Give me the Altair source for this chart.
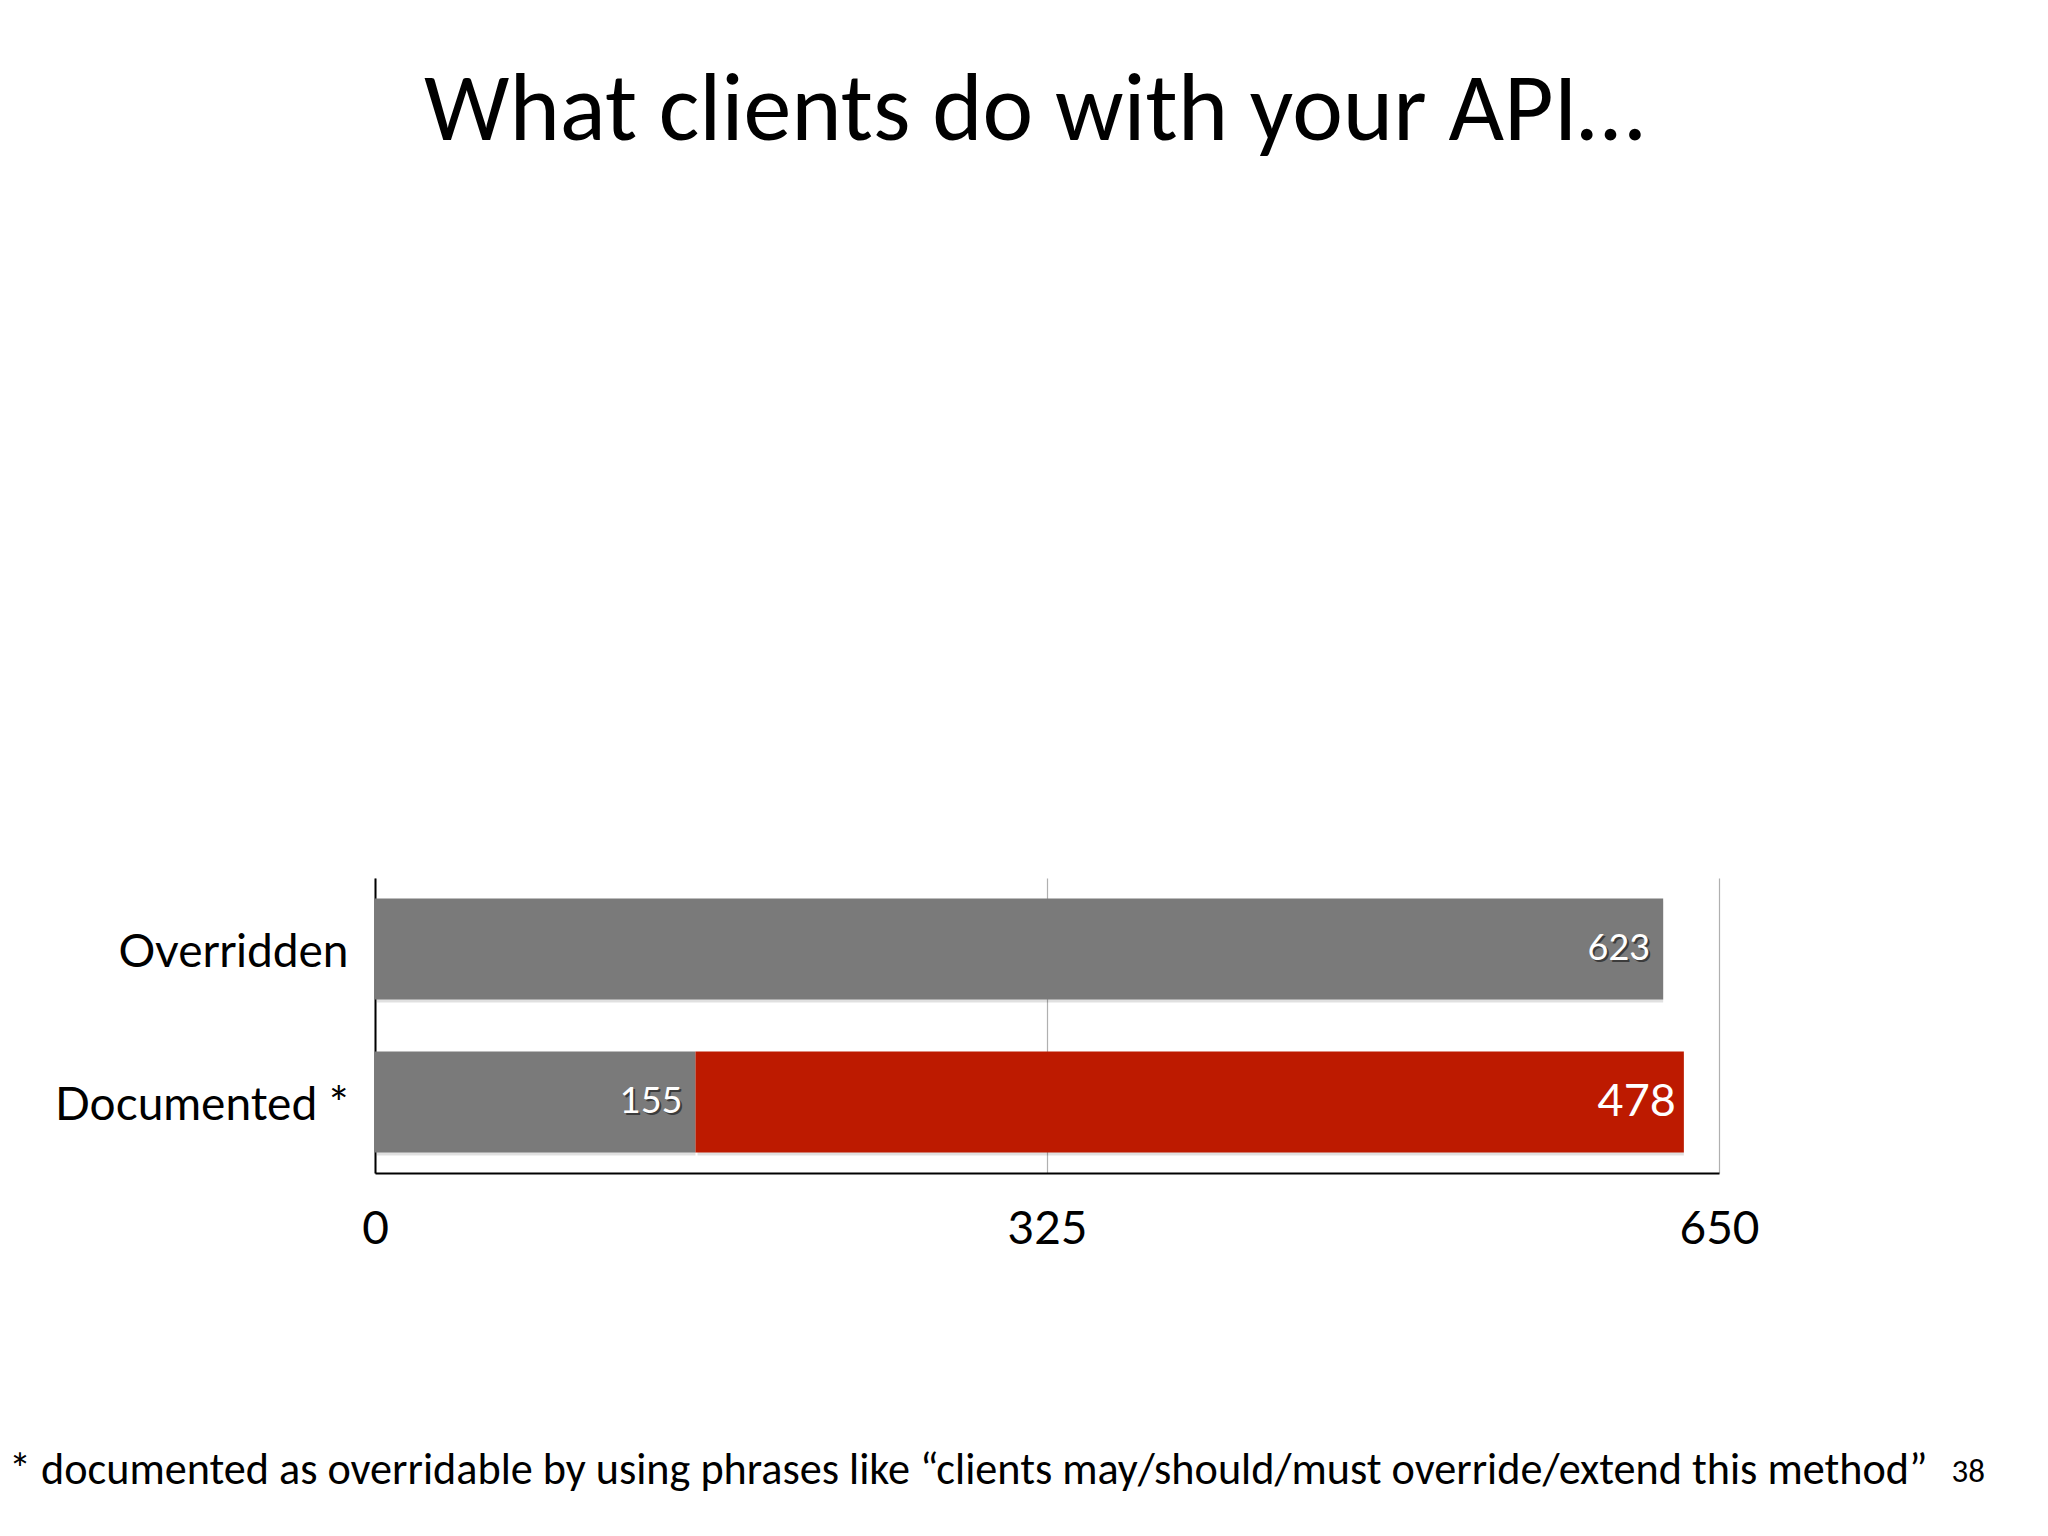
import altair as alt
import pandas as pd

# ---- data ----
categories = ["Overridden", "Documented *"]
bar_category = ["Overridden", "Documented *", "Documented *"]
bar_part = ["Overridden", "Not documented", "Documented"]
bar_value = [623, 155, 478]
bar_order = [0, 0, 1]
x_ticks = [0, 325, 650]
title_text = ["What clients do with your API\u2026"]
footnote_text = ["* documented as overridable by using phrases like \u201cclients may/should/must override/extend this method\u201d"]
page_text = ["38"]

GRAY = "#7a7a7a"
RED = "#bd1a00"
LABEL_FONT = "Lato"
SLIDE_FONT = "Carlito, 'Liberation Sans Narrow', 'Open Sans'"

df = pd.DataFrame({"cat": bar_category, "part": bar_part, "value": bar_value, "ord": bar_order})

W, H = 1344, 295
PL, PT = 367, 870
PR = 2032 - PL - W
PB = 1520 - PT - H

base = alt.Chart(df).transform_stack(
    stack="value", groupby=["cat"], as_=["x0", "x1"], sort=[alt.SortField("ord")]
)

y_enc = alt.Y(
    "cat:N",
    sort=categories,
    title=None,
    scale=alt.Scale(paddingInner=0.34, paddingOuter=0.134),
    axis=alt.Axis(
        labelFont=LABEL_FONT, labelFontSize=46, labelColor="#000", labelPadding=27,
        labelOffset=4, ticks=False, domainColor="#000", domainWidth=2, grid=False,
        labelLimit=400,
    ),
)
x_enc = alt.X(
    "x0:Q",
    title=None,
    scale=alt.Scale(domain=[0, 650], nice=False),
    axis=alt.Axis(
        values=x_ticks, labelFont=LABEL_FONT, labelFontSize=46, labelColor="#000",
        labelPadding=34, ticks=False, domainColor="#000", domainWidth=2,
        grid=True, gridColor="#b0b0b0", gridWidth=1.2, labelFlush=False,
    ),
)

shadow = base.mark_bar(color="#000", opacity=0.12, xOffset=2, yOffset=3).encode(
    x=x_enc, x2="x1:Q", y=y_enc
)
bars = base.mark_bar().encode(
    x=x_enc,
    x2="x1:Q",
    y=y_enc,
    color=alt.Color(
        "part:N",
        scale=alt.Scale(domain=["Overridden", "Not documented", "Documented"], range=[GRAY, GRAY, RED]),
        legend=None,
    ),
)

gray_base = base.transform_filter("datum.part != 'Documented'")
lab_shadow = gray_base.mark_text(
    align="right", baseline="middle", dx=-11, dy=2, font=LABEL_FONT, fontSize=36, color="#222", opacity=0.7
).encode(x=alt.X("x1:Q"), y=alt.Y("cat:N", sort=categories), text="value:Q")
lab_gray = gray_base.mark_text(
    align="right", baseline="middle", dx=-13, font=LABEL_FONT, fontSize=36, color="#fff"
).encode(x=alt.X("x1:Q"), y=alt.Y("cat:N", sort=categories), text="value:Q")
lab_red = base.transform_filter("datum.part == 'Documented'").mark_text(
    align="right", baseline="middle", dx=-8, font=LABEL_FONT, fontSize=45, color="#fff"
).encode(x=alt.X("x1:Q"), y=alt.Y("cat:N", sort=categories), text="value:Q")

title = alt.Chart(pd.DataFrame({"t": title_text})).mark_text(
    align="center", baseline="alphabetic", font=SLIDE_FONT, fontSize=96, color="#000"
).encode(x=alt.value(1034 - 375), y=alt.value(140 - 878), text="t:N")

foot = alt.Chart(pd.DataFrame({"t": footnote_text})).mark_text(
    align="left", baseline="alphabetic", font=SLIDE_FONT, fontSize=44.2, color="#000"
).encode(x=alt.value(9 - 375), y=alt.value(1484 - 878), text="t:N")

page = alt.Chart(pd.DataFrame({"t": page_text})).mark_text(
    align="right", baseline="alphabetic", font=SLIDE_FONT, fontSize=33, color="#000"
).encode(x=alt.value(1985 - 375), y=alt.value(1482 - 878), text="t:N")

chart = (
    alt.layer(shadow, bars, lab_shadow, lab_gray, lab_red, title, foot, page)
    .properties(
        width=W,
        height=H,
        padding={"left": PL, "top": PT, "right": PR, "bottom": PB},
        autosize=alt.AutoSizeParams(type="none"),
    )
    .configure(background="#ffffff")
    .configure_view(stroke=None, strokeWidth=0)
)

chart.save("out.html", embed_options={"renderer": "svg", "actions": False})
